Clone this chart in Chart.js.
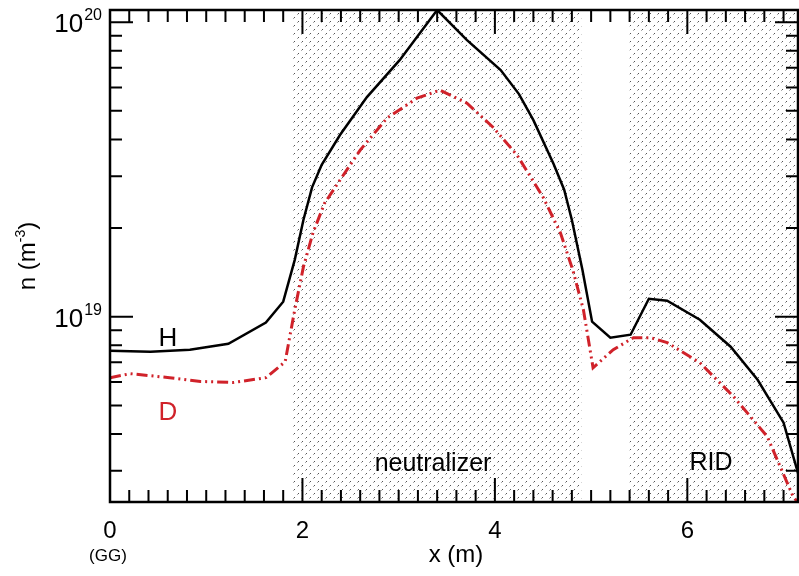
<!DOCTYPE html>
<html>
<head>
<meta charset="utf-8">
<script src="https://cdn.jsdelivr.net/npm/chart.js@4.4.0/dist/chart.umd.min.js"></script>
<style>
  html, body { margin: 0; padding: 0; background: #fff; }
  canvas { display: block; }
</style>
</head>
<body>
<canvas id="myChart" width="799" height="576"></canvas>
<script>
// H density profile (black, solid)
const xH = [0, 0.42, 0.83, 1.23, 1.62, 1.80, 1.92, 2.01, 2.10, 2.20, 2.39, 2.67, 3.01, 3.40,
            3.71, 4.06, 4.25, 4.40, 4.61, 4.72, 4.80, 4.91, 5.01, 5.20, 5.41, 5.60, 5.79, 6.13, 6.45, 6.73, 7.00, 7.16];
const nH = [7.67e18, 7.6e18, 7.72e18, 8.09e18, 9.55e18, 1.125e19, 1.56e19, 2.13e19, 2.75e19, 3.28e19, 4.14e19, 5.57e19, 7.43e19, 1.1e20,
            8.69e19, 6.88e19, 5.7e19, 4.65e19, 3.3e19, 2.7e19, 2.13e19, 1.44e19, 9.62e18, 8.49e18, 8.69e18, 1.151e19, 1.133e19, 9.77e18, 7.91e18, 6.11e18, 4.37e18, 2.87e18];

// D density profile (red, dash-dot-dot)
const xD = [0, 0.21, 0.62, 0.94, 1.28, 1.62, 1.82, 1.92, 2.01, 2.11, 2.23, 2.39, 2.60, 2.88, 3.19, 3.43,
            3.71, 3.98, 4.23, 4.50, 4.68, 4.81, 4.92, 5.02, 5.23, 5.44, 5.62, 5.79, 6.13, 6.48, 6.83, 7.10, 7.14];
const nD = [6.21e18, 6.41e18, 6.21e18, 6.03e18, 5.98e18, 6.21e18, 7.03e18, 1.056e19, 1.476e19, 1.93e19, 2.43e19, 2.91e19, 3.68e19, 4.73e19, 5.52e19, 5.88e19,
            5.31e19, 4.40e19, 3.54e19, 2.55e19, 1.93e19, 1.44e19, 1.056e19, 6.71e18, 7.73e18, 8.49e18, 8.49e18, 8.17e18, 6.98e18, 5.36e18, 3.92e18, 2.45e18, 2.36e18];

// axes
const xMin = 0, xMax = 7.15;
const yMin = 2.35e18, yMax = 1.1e20;
const xMajorTicks = [0, 2, 4, 6];
const xTickLabels = ['0', '2', '4', '6'];
const yMajorTicks = [1e19, 1e20];
const yTickExponents = ['19', '20'];

// shaded regions
const neutralizerSpan = [1.9, 4.9];
const ridSpan = [5.4, 7.15];

const red = '#d0222a';
const font = '"Liberation Sans", Arial, sans-serif';

function makeHatch(ctx) {
  const tile = document.createElement('canvas');
  tile.width = 8; tile.height = 8;
  const t = tile.getContext('2d');
  t.strokeStyle = '#555';
  t.lineWidth = 1;
  t.beginPath();
  t.moveTo(1.5, 6.5); t.lineTo(3, 5);
  t.moveTo(5.5, 2.5); t.lineTo(7, 1);
  t.stroke();
  return ctx.createPattern(tile, 'repeat');
}

const framePlugin = {
  id: 'frame',
  beforeDatasetsDraw(chart) {
    const { ctx, chartArea: a, scales: { x } } = chart;
    ctx.save();
    ctx.fillStyle = makeHatch(ctx);
    [neutralizerSpan, ridSpan].forEach(s => {
      const x0 = Math.max(a.left, x.getPixelForValue(s[0]));
      const x1 = Math.min(a.right, x.getPixelForValue(s[1]));
      ctx.fillRect(x0, a.top, x1 - x0, a.bottom - a.top);
    });
    ctx.restore();
  },
  afterDraw(chart) {
    const { ctx, chartArea: a, scales: { x, y } } = chart;
    ctx.save();
    ctx.strokeStyle = '#000';
    ctx.fillStyle = '#000';

    // frame
    ctx.lineWidth = 2.5;
    ctx.strokeRect(a.left, a.top, a.right - a.left, a.bottom - a.top);

    // x ticks (minor every 0.2, major every 2)
    ctx.lineWidth = 2;
    ctx.beginPath();
    for (let i = 1; i * 0.2 < xMax; i++) {
      const px = x.getPixelForValue(i * 0.2);
      const len = (i % 10 === 0) ? 24 : 12;
      ctx.moveTo(px, a.bottom); ctx.lineTo(px, a.bottom - len);
      ctx.moveTo(px, a.top); ctx.lineTo(px, a.top + len);
    }
    // y ticks
    for (let d = 18; d <= 20; d++) {
      for (let m = 1; m <= 9; m++) {
        const v = m * Math.pow(10, d);
        if (v < yMin || v > yMax) continue;
        const py = y.getPixelForValue(v);
        const len = m === 1 ? 23 : 12;
        ctx.moveTo(a.left, py); ctx.lineTo(a.left + len, py);
        ctx.moveTo(a.right, py); ctx.lineTo(a.right - len, py);
      }
    }
    ctx.stroke();

    ctx.font = '24px ' + font;
    ctx.textAlign = 'center';
    ctx.textBaseline = 'alphabetic';
    xMajorTicks.forEach((v, i) => {
      ctx.fillText(xTickLabels[i], x.getPixelForValue(v), 538);
    });
    ctx.font = '17px ' + font;
    ctx.fillText('(GG)', x.getPixelForValue(0) - 2, 561);

    // y tick labels 10^n
    yMajorTicks.forEach((v, i) => {
      const py = y.getPixelForValue(v);
      ctx.textAlign = 'right';
      ctx.font = '16px ' + font;
      const supW = ctx.measureText(yTickExponents[i]).width;
      ctx.fillText(yTickExponents[i], 102, py - 2);
      ctx.font = '26px ' + font;
      ctx.fillText('10', 102 - supW - 1, py + 10);
    });

    // axis titles
    ctx.textAlign = 'center';
    ctx.font = '24px ' + font;
    ctx.fillText('x (m)', (a.left + a.right) / 2 + 2, 562);

    ctx.save();
    ctx.translate(35, (a.top + a.bottom) / 2);
    ctx.rotate(-Math.PI / 2);
    ctx.textAlign = 'left';
    const p1 = 'n (m', p3 = ')';
    ctx.font = '14px ' + font;
    const w2 = ctx.measureText('-3').width;
    ctx.font = '24px ' + font;
    const w1 = ctx.measureText(p1).width, w3 = ctx.measureText(p3).width;
    const sx = -(w1 + w2 + w3) / 2;
    ctx.fillText(p1, sx, 0);
    ctx.font = '14px ' + font;
    ctx.fillText('-3', sx + w1, -10);
    ctx.font = '24px ' + font;
    ctx.fillText(p3, sx + w1 + w2, 0);
    ctx.restore();

    // region and series labels
    ctx.font = '25px ' + font;
    ctx.fillText('neutralizer', 433, 471);
    ctx.fillText('RID', 711, 470);
    ctx.font = '26px ' + font;
    ctx.fillText('H', 168, 346);
    ctx.fillStyle = red;
    ctx.fillText('D', 168, 420);
    ctx.restore();
  }
};

const ctx = document.getElementById('myChart').getContext('2d');
const myChart = new Chart(ctx, {
  type: 'line',
  data: {
    datasets: [
      {
        label: 'H',
        data: xH.map((v, i) => ({ x: v, y: nH[i] })),
        borderColor: '#000',
        borderWidth: 2.5,
        pointRadius: 0,
        tension: 0
      },
      {
        label: 'D',
        data: xD.map((v, i) => ({ x: v, y: nD[i] })),
        borderColor: red,
        borderWidth: 3,
        borderDash: [11, 4, 2, 4, 2, 4],
        pointRadius: 0,
        tension: 0
      }
    ]
  },
  options: {
    responsive: false,
    animation: false,
    layout: { padding: { left: 110, right: 1, top: 10, bottom: 74 } },
    scales: {
      x: { type: 'linear', min: xMin, max: xMax, display: false },
      y: { type: 'logarithmic', min: yMin, max: yMax, display: false }
    },
    plugins: {
      legend: { display: false },
      tooltip: { enabled: false }
    }
  },
  plugins: [framePlugin]
});
</script>
</body>
</html>
